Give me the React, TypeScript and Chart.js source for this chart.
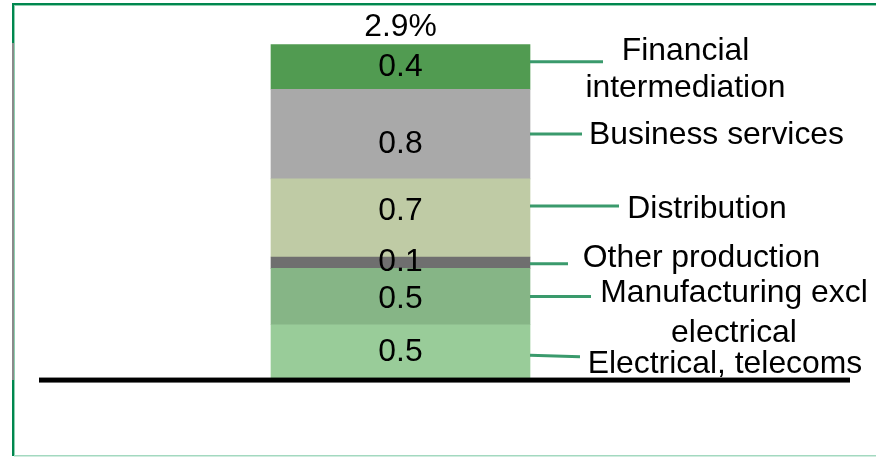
import React, { useEffect, useRef } from "react";
import { Chart, registerables } from "chart.js";

Chart.register(...registerables);

// ---- data ----
const barCategory = [""];
const seriesNames = [
  "Electrical, telecoms",
  "Manufacturing excl electrical",
  "Other production",
  "Distribution",
  "Business services",
  "Financial intermediation",
];
const labelLines = [
  ["Electrical, telecoms"],
  ["Manufacturing excl", "electrical"],
  ["Other production"],
  ["Distribution"],
  ["Business services"],
  ["Financial", "intermediation"],
];
const seriesValues = [0.46, 0.49, 0.1, 0.68, 0.78, 0.39];
const seriesColors = ["#99cc99", "#86b586", "#6f6f6f", "#bfcba5", "#a9a9a9", "#519b51"];

// annotation layout (pixel offsets relative to bar right edge / segment centre)
const annotLayout = [
  { valueDy: -1.5, lineDy0: 4, lineDy1: 5.5, lineLen: 50, textDx: 195, textDy: 22, lh: 0 },
  { valueDy: 0, lineDy0: 0, lineDy1: 0, lineLen: 61, textDx: 204, textDy: 5, lh: 40 },
  { valueDy: -3, lineDy0: 1, lineDy1: 1, lineLen: 38, textDx: 171.5, textDy: 4, lh: 0 },
  { valueDy: -9, lineDy0: -12, lineDy1: -12, lineLen: 89, textDx: 177, textDy: 0, lh: 0 },
  { valueDy: 8, lineDy0: 0, lineDy1: 0, lineLen: 52, textDx: 186.5, textDy: 10, lh: 0 },
  { valueDy: -1.5, lineDy0: -5, lineDy1: -5, lineLen: 73, textDx: 155.5, textDy: -6.5, lh: 36.7 },
];

const FONT = "30.5px 'Liberation Sans', Arial, sans-serif";
const TEXT_STRETCH = 1.045;

function drawText(ctx: CanvasRenderingContext2D, text: string, x: number, y: number) {
  ctx.save();
  ctx.translate(x, y);
  ctx.scale(TEXT_STRETCH, 1);
  ctx.fillText(text, 0, 0);
  ctx.restore();
}

const framePlugin = {
  id: "frame",
  beforeDraw(chart: any) {
    const ctx = chart.ctx;
    const w = chart.width;
    const h = chart.height;
    ctx.save();
    ctx.fillStyle = "#ffffff";
    ctx.fillRect(0, 0, w, h);
    // top border
    ctx.fillStyle = "#00874f";
    ctx.fillRect(12, 3, w - 12, 2);
    ctx.fillStyle = "#8fd0b0";
    ctx.fillRect(14, 5, w - 14, 1);
    // left border
    ctx.fillStyle = "#00874f";
    ctx.fillRect(12, 3, 2, 40);
    ctx.fillStyle = "#8a8a8a";
    ctx.fillRect(12, 43, 2, 337);
    ctx.fillStyle = "#00874f";
    ctx.fillRect(12, 380, 2, h - 381);
    ctx.fillStyle = "#8fd0b0";
    ctx.fillRect(14, 5, 1, h - 6);
    // bottom border
    ctx.fillStyle = "#a3d9c0";
    ctx.fillRect(14, h - 2, w - 14, 1.5);
    ctx.restore();
  },
};

const annotPlugin = {
  id: "annot",
  afterDatasetsDraw(chart: any) {
    const ctx = chart.ctx;
    const yScale = chart.scales.y;
    const area = chart.chartArea;
    ctx.save();

    // baseline (x axis)
    const y0 = yScale.getPixelForValue(0);
    ctx.fillStyle = "#000000";
    ctx.fillRect(area.left, y0, chart.width - 26 - area.left, 5);

    ctx.font = FONT;
    ctx.textAlign = "center";
    ctx.textBaseline = "alphabetic";

    let topY = Infinity;
    let barX = 0;
    let total = 0;
    chart.data.datasets.forEach((ds: any, i: number) => {
      const meta = chart.getDatasetMeta(i);
      const el = meta.data[0];
      if (!el) return;
      const v = ds.data[0];
      total += v;
      const cy = (el.y + el.base) / 2;
      const right = el.x + el.width / 2;
      barX = el.x;
      topY = Math.min(topY, el.y);
      const L = annotLayout[i];

      // value label
      ctx.fillStyle = "#000000";
      drawText(ctx, v.toFixed(1), el.x, cy + 11 + L.valueDy);

      // leader line
      ctx.strokeStyle = "#3a9a6c";
      ctx.lineWidth = 3;
      ctx.beginPath();
      ctx.moveTo(right, cy + L.lineDy0);
      ctx.lineTo(right + L.lineLen, cy + L.lineDy1);
      ctx.stroke();

      // category label
      ctx.fillStyle = "#000000";
      labelLines[i].forEach((line, k) => {
        drawText(ctx, line, right + L.textDx, cy + L.textDy + k * L.lh);
      });
    });

    // total label
    ctx.fillStyle = "#000000";
    drawText(ctx, total.toFixed(1) + "%", barX, topY - 8);

    ctx.restore();
  },
};

export default function App() {
  const ref = useRef<HTMLCanvasElement | null>(null);

  useEffect(() => {
    if (!ref.current) return;
    const chart = new Chart(ref.current, {
      type: "bar",
      data: {
        labels: barCategory,
        datasets: seriesNames.map((name, i) => ({
          label: name,
          data: [seriesValues[i]],
          backgroundColor: seriesColors[i],
          borderWidth: 0,
          barThickness: 259,
        })),
      },
      options: {
        responsive: false,
        animation: false,
        devicePixelRatio: 1,
        layout: { padding: { left: 39, right: 114, top: 10, bottom: 22 } },
        plugins: {
          legend: { display: false },
          tooltip: { enabled: false },
        },
        scales: {
          x: { stacked: true, display: false },
          y: { stacked: true, display: false, min: -0.5, max: 3.2 },
        },
      },
      plugins: [framePlugin, annotPlugin],
    });
    return () => chart.destroy();
  }, []);

  return (
    <div style={{ position: "fixed", left: 0, top: 0, width: 876, height: 457 }}>
      <canvas ref={ref} width={876} height={457} style={{ display: "block" }} />
    </div>
  );
}
